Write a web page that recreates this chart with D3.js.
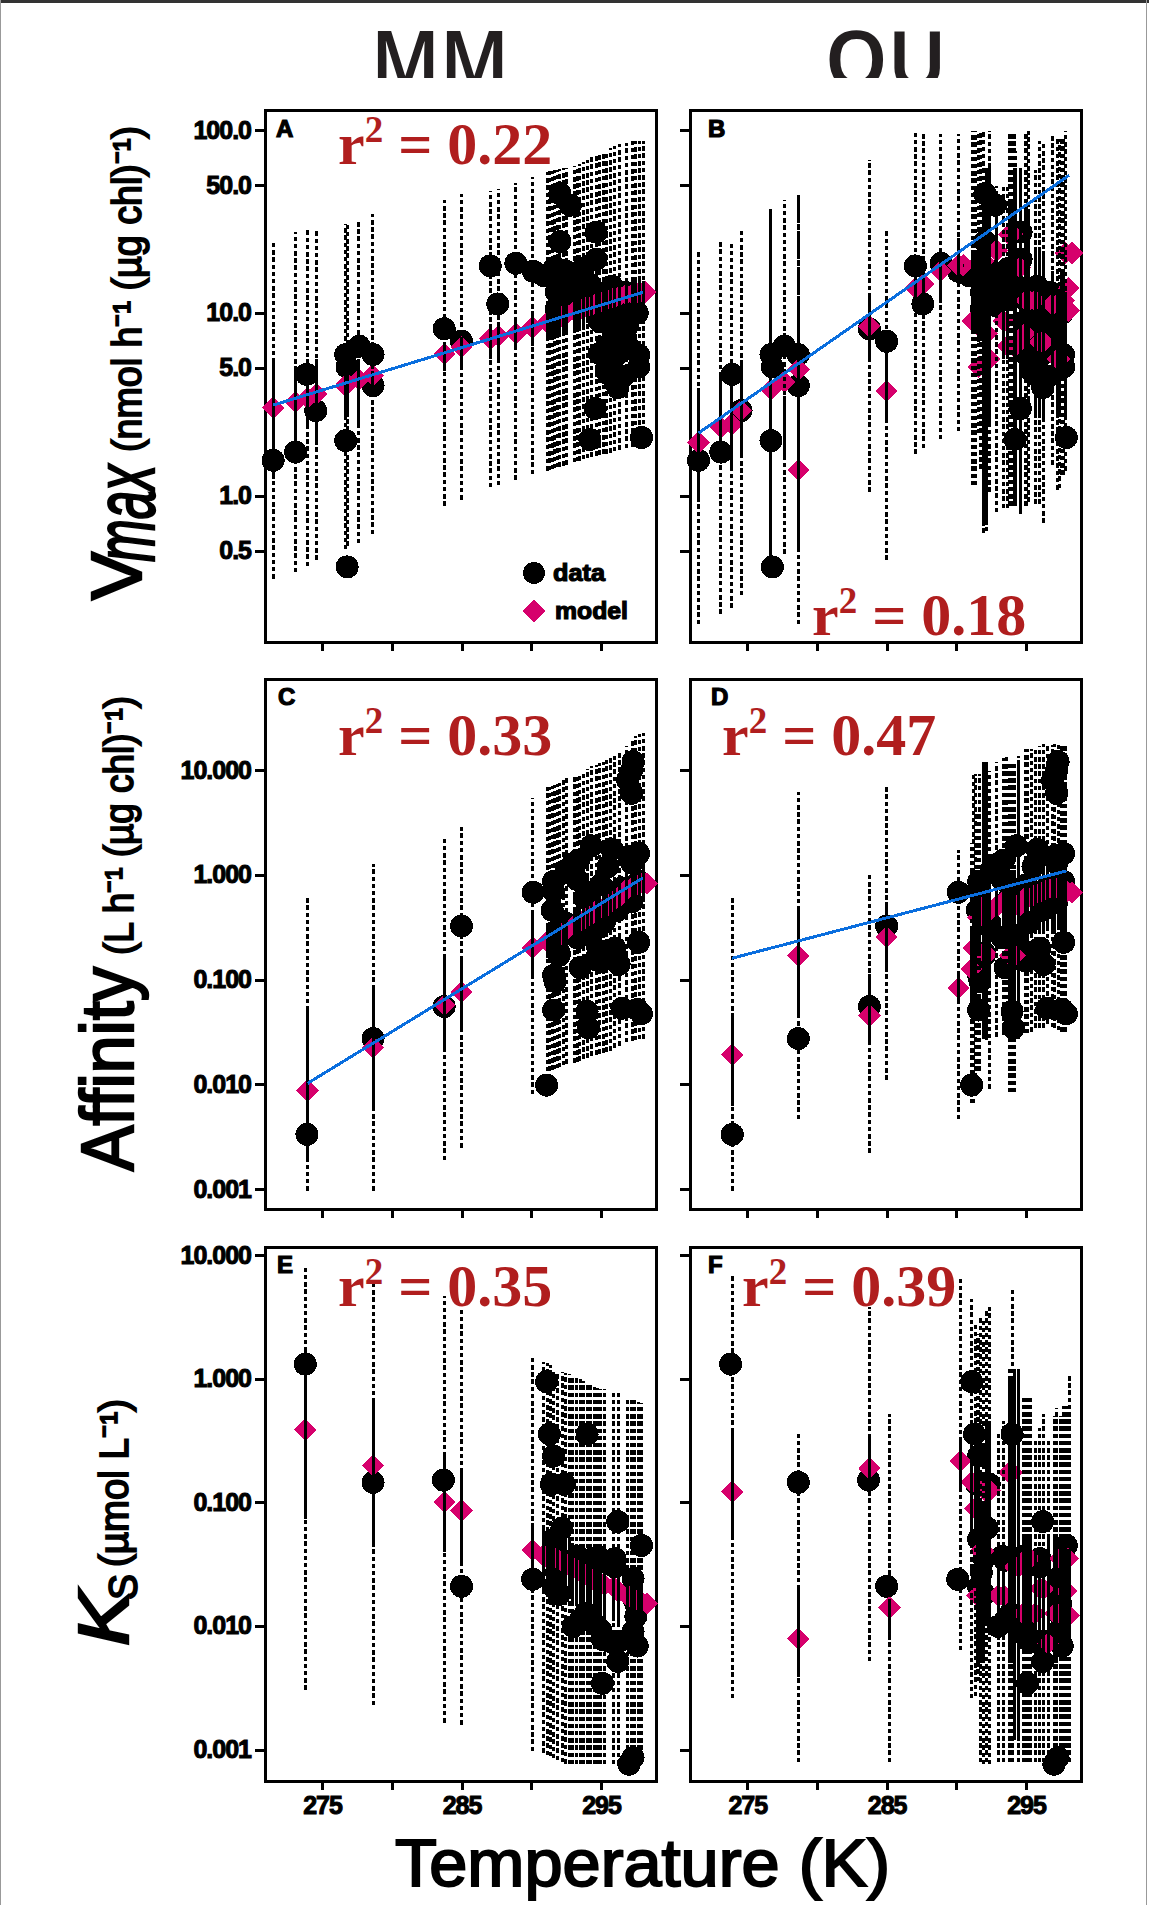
<!DOCTYPE html>
<html>
<head>
<meta charset="utf-8">
<script src="https://cdn.jsdelivr.net/npm/d3@7/dist/d3.min.js"></script>
<style>
  html, body { margin: 0; padding: 0; background: #fff; }
  svg { display: block; }
  text { font-family: "Liberation Sans", Arial, sans-serif; fill: #000; }
  .axis text { font-size: 25px; font-weight: bold; stroke: #000; stroke-width: 1px; letter-spacing: -1px; }
  .axis line { stroke: #000; stroke-width: 3px; shape-rendering: crispEdges; }
  .axis path { display: none; }
  .rsq, .rsq tspan { font-family: "Liberation Serif", serif; font-weight: bold; fill: #b01e1e; }
  .heavy { stroke: #000; stroke-width: 1.2px; }
</style>
</head>
<body>
<div id="chart"></div>
<script>
// measured data, black dots (same in both columns)
var vmaxTemp = [271.5,273.1,273.9,274.55,276.7,276.8,276.8,276.7,277.66,278.66,278.66,283.76,285,287.06,287.6,288.9,290.15,292.05,292.8,292.05,294.65,294.65,291.7,292.5,291.8,291.8,294.2,296.7,297.6,295.4,297.7,297.7,296.1,295.4,296.2,294.6,294.2,297.9,294.9,296.9,292.5,293.5,293.5,292.8,294.8,295.5,296,295.6,296.5,297,294.9,296.6,293.7,290.9,297.3,295.8,296,295.6];
var vmaxData = [1.56,1.73,4.61,2.92,2.0,0.407,5.06,5.92,6.58,5.92,4.0,8.19,7.0,18.1,11.2,18.7,16.9,45,38.9,24.6,27.7,19.7,17.8,16.9,13,10.5,14.4,13,10,6.6,5.9,5.06,5.9,4.8,3.9,3.0,2.03,2.08,9.0,8.5,14,15,12,11,12,12,10,8.6,7.5,6.5,6,4.5,17.5,16,11,14,6.6,4.6];

var affinityTemp = [273.92,278.66,283.76,285,290.14,291.1,291.6,291.6,293,294.1,294.3,293.4,295.8,297,297.2,297.3,297.9,296.5,297.7,295.8,294.3,291.7,292.2,294.6,291.5,296.2,297.7,294.1,292,291.6,292.5,293.3,293.8,295,295.5,296.5,297.2,297.7,292.4,293.3,295.2,296,297.2,295,293.5,296.3,292,294,291.6,297.6,294.8,296.9,297.2];
var affinityData = [0.00334,0.0274,0.0554,0.324,0.682,0.00986,0.0513,0.864,1.28,0.0346,1.89,1.38,1.75,1.5,10,12,0.0473,0.0533,0.227,0.18,0.266,0.096,0.336,0.155,0.46,0.46,0.864,0.68,0.17,0.7,1.1,0.9,0.6,0.8,1.2,0.75,1.3,1.6,0.35,0.25,0.35,0.2,0.55,0.15,0.13,0.14,0.18,0.05,0.11,0.052,0.19,8,6];

var ksTemp = [273.8,278.66,283.7,285,290.1,291.1,291.3,291.6,291.45,292.36,292.2,294,296.2,297.9,294.8,296,293.3,291.6,293,293.9,295.1,296.2,295.1,297.6,297.3,297,297.3,294.4,297.5,292,291.8,293.5,294.3,295.3,296,297.3,297.5,297.3,294.5,295,296.3,291.6,292,295.6,293.5];
var ksData = [1.31,0.145,0.151,0.0209,0.0238,0.945,0.356,0.237,0.14,0.14,0.0618,0.356,0.0698,0.0447,0.0364,0.035,0.0364,0.0206,0.0099,0.01265,0.00776,0.00516,0.00343,0.00687,0.0242,0.00076,0.00086,0.035,0.015,0.035,0.027,0.034,0.033,0.033,0.03,0.017,0.012,0.009,0.0105,0.0092,0.0075,0.05,0.018,0.0075,0.011];

// model fits with error bars, panel A
var tempA = [271.5,273.1,273.97,274.6,276.7,276.8,277.65,278.65,283.78,285,287.05,287.66,288.9,290.1,291.13,291.3,291.5,291.7,291.9,292.05,292.3,292.5,293.12,293.3,293.43,293.73,294,294.35,294.65,294.9,295.15,295.4,295.7,296,296.34,296.8,297.26,297.5,297.75,298.03,298.2];
var modelA = [3.03,3.25,3.42,3.6,4.0,4.1,4.33,4.56,5.98,6.5,7.22,7.49,7.7,8.32,8.9,9,9.15,9.3,9.4,9.5,9.7,9.85,10.2,10.3,10.4,10.6,10.8,11,11.3,11.4,11.6,11.8,12,12.2,12.4,12.6,12.7,12.8,12.9,13,13];
var highA = [25,27.7,28.7,28.7,30.8,30.5,32.4,34.7,41.5,45,46.8,48,51.4,55.5,59,59.5,60,60.7,61,61.5,62,62.5,63.5,64,65,67,69,71,72,73,75,77,80,82,84,85,87,87.5,87.5,87.5,13];
var lowA = [.351,.38,.411,.445,.507,.53,.548,.615,.88,.95,1.11,1.14,1.22,1.31,1.37,1.38,1.39,1.41,1.43,1.44,1.46,1.48,1.52,1.54,1.55,1.58,1.6,1.63,1.65,1.67,1.69,1.7,1.72,1.75,1.78,1.82,1.84,1.85,1.86,1.87,13];
var solidHighA = [5.6,5.06,5.6,5.6,5.92,5.9,5.33,4.8,6.93,7.3,8.54,8.54,9,10,10.5,10.6,10.8,11,11.1,11.2,11.4,11.6,11.9,12,12.2,12.4,12.7,13,13.2,13.5,13.8,14,14.2,14.4,14.6,14.8,14.9,15,15,15,13];
var solidLowA = [1.23,1.52,2.43,1.97,2.7,2.7,2.43,3.5,4.8,5.06,5.6,5.6,6.24,6.6,7.3,7.4,7.5,7.6,7.7,7.75,7.9,8,8.2,8.3,8.4,8.6,8.8,9,9.2,9.4,9.5,9.7,9.8,10,10.2,10.3,10.4,10.4,10.4,10.5,13];

// panel B
var tempB = [271.5,273.1,273.9,274.55,276.7,277.66,278.66,278.7,283.76,285,287.06,287.63,288.87,290.14,290.5,291.39,291.58,291.94,292.18,292.37,292.9,293.4,293.67,294.04,294.27,294.57,294.93,295.2,295.65,296.24,296.89,297.27,297.56,297.85,298.3,298.05,298.05,291.17,291.7,292.85,293.8,294.14,295,296,297.4,297.68,296.9];
var modelB = [1.95,2.37,2.46,2.92,3.8,4.2,1.38,4.93,8.45,3.74,13.7,14.4,17,18.2,18.2,9,5.06,19.2,7.7,5.6,21.9,9,6.6,27,6.6,17.8,7.7,11.7,11.7,6.93,11.1,5.6,11.7,21.3,21.3,13.7,10.3,9,19.2,21.9,27,6.6,11.7,6.93,5.6,11.7,11.1];
var highB = [21.5,25,24,28.7,36.9,41.5,45,44.4,69.2,28.7,98.8,95.7,95.7,95.7,18.2,98.8,98.8,98.8,62.3,98.8,49.3,49.3,49.3,98.8,76.8,62.3,98.8,98.8,60.7,87.5,94.7,89.9,92.3,98.8,21.3,13.7,10.3,98.8,98.8,49.3,98.8,98.8,98.8,87.5,89.9,92.3,94.7];
var lowB = [.198,.225,.243,.285,.445,.48,.198,.625,1.05,.445,1.69,1.82,2.03,2.25,18.2,1.14,2.19,.625,.64,1.05,.81,.855,.855,.88,.88,.79,.88,.925,.9,.71,1.48,1.08,1.3,1.37,21.3,13.7,10.3,1.14,1.4,.81,.88,.88,.88,.9,1.1,1.3,1.48];
var solidHighB = [3.9,4.56,4.44,5.33,36.9,3.5,12.2,7.7,12.2,6.08,19.7,17.8,21.9,25.6,18.2,21.9,27,38.9,62.3,62.3,36.9,16.9,16.9,41,62.3,62.3,36.9,36.9,21.9,21.9,16.9,13,16.9,13,21.3,13.7,10.3,21.9,27,36.9,41,62,36.9,21.9,13,16.9,16.9];
var solidLowB = [.975,1.6,1.37,1.6,.445,1.6,.507,2.7,5.6,2.5,11.7,11.1,11.7,14.4,18.2,7.7,6.93,.73,.69,2.43,13,5.6,5.6,16.9,.88,.81,4.56,4.56,2.7,2.7,4.56,2.7,4.56,2.7,21.3,13.7,10.3,7.7,7,13,16.9,.88,4.56,2.7,2.7,4.56,4.56];

// panel C
var tempC = [273.97,278.66,283.78,285,290.1,291.13,291.3,291.5,291.7,291.9,292.05,292.3,292.5,293.12,293.3,293.43,293.73,294,294.35,294.65,294.9,295.15,295.4,295.7,296,296.34,296.8,297.26,297.5,297.75,298.03,298.3];
var modelC = [.00876,.0225,.0576,.0758,.202,.23,.2366,.24,.246,.255,.266,.285,.2995,.33,.337,.35,.37,.39,.42,.46,.47,.48,.5,.54,.58,.62,.72,.76,.79,.82,.85,.83];
var highC = [.63,1.26,2.25,2.85,5.46,6.9,6.95,7,7.2,7.4,7.5,8,8.75,9,9.1,9.3,9.8,10.3,11,11.2,11.6,12,12.4,13,13.5,14.5,17,19.5,21,22,22.4,.83];
var lowC = [.00097,.00097,.0019,.0025,.0081,.0133,.0135,.0138,.014,.0143,.0146,.0152,.0158,.0162,.0164,.0168,.0175,.018,.0188,.0193,.0197,.02,.0205,.021,.0225,.0235,.0253,.026,.0265,.027,.0274,.83];
var solidHighC = [.0554,.082,.166,.166,.461,.33,.34,.35,.36,.37,.39,.41,.44,.48,.49,.51,.54,.57,.61,.67,.68,.7,.73,.78,.84,.9,1.04,1.1,1.15,1.19,1.23,.83];
var solidLowC = [.0019,.00616,.0216,.0346,.112,.16,.163,.166,.17,.176,.183,.197,.207,.228,.232,.24,.255,.27,.29,.317,.324,.33,.345,.37,.4,.43,.5,.52,.545,.565,.586,.83];

// panel D
var tempD = [273.92,278.66,283.76,285,290.14,291.1,291.39,291.58,291.94,292.18,292.37,292.9,293.4,293.63,294.04,294.48,294.93,295.41,295.7,296.24,296.55,297.08,297.56,297.85,298.3,291.22,291.65,292.85,293.85,294.2,295.08,296,296.9,297.3,297.68];
var modelD = [.0192,.169,.0455,.256,.0833,.126,.195,.394,.5,.173,.45,.5,.56,.54,.17,.5,.6,.62,.656,.7,.738,.738,.75,.682,.682,.2,.394,.5,.17,.17,.6,.68,.738,.75,.75];
var highD = [.63,6.15,.99,6.9,1.72,2,9.1,3.84,12,12,9.84,12,12.95,13.5,11.5,13.5,15.8,15.8,16.4,17.7,17.05,17.7,17.7,17.05,.682,9.1,9.1,12,11.5,11.5,15.8,17,17.5,17.7,17.7];
var lowD = [.00097,.00467,.00222,.0111,.00467,.00665,.01153,.0135,.0274,.0263,.00912,.0284,.0296,.0296,.00842,.0274,.0308,.032,.0346,.0346,.0374,.0346,.032,.032,.682,.00665,.0135,.0284,.00842,.00842,.0308,.0346,.035,.033,.032];
var solidHighD = [.0455,.461,.112,.54,.12,.3,.6,.8,12,12,1.2,1.2,1.3,1.3,1.1,12,1.3,1.3,1.4,1.5,1.6,1.6,1.6,1.5,.682,.6,.8,1.2,1.1,1.1,1.3,1.5,1.6,1.6,1.6];
var solidLowD = [.0062,.0438,.0253,.126,.0648,.06,.06,.18,.0274,.0263,.1,.2,.2,.2,.03,.03,.25,.25,.28,.3,.3,.3,.3,.3,.682,.06,.18,.2,.03,.03,.25,.3,.3,.3,.3];

// panel E
var tempE = [273.8,278.66,283.78,285,290.1,290.88,291.13,291.37,291.62,291.87,292.23,292.48,292.72,292.97,293.27,293.5,293.76,294,294.25,294.5,294.74,294.99,295.24,295.88,296.25,296.92,297.17,297.41,297.66,297.9,298.3];
var modelE = [.386,.198,.1007,.0856,.0412,.0372,.036,.0358,.0355,.035,.033,.032,.031,.03,.0285,.0275,.0265,.0255,.0245,.0235,.023,.022,.0215,.0206,.019,.0175,.017,.0165,.016,.0155,.0151];
var highE = [8.17,6.14,4.62,3.77,1.54,1.36,1.33,1.28,1.2,1.16,1.13,1.11,1.1,1.07,1.03,.99,.95,.92,.88,.85,.84,.83,.83,.8,.77,.71,.7,.68,.65,.63,.0151];
var lowE = [.00304,.00229,.00165,.00159,.00097,.00094,.0009,.00088,.00085,.00082,.00079,.00077,.00076,.00076,.00076,.00076,.00076,.00076,.00076,.00076,.00076,.00076,.00076,.00076,.00076,.00076,.00076,.00076,.00076,.00076,.0151];
var solidHighE = [1.81,.655,.257,.178,.067,.06,.058,.057,.056,.055,.052,.05,.05,.047,.045,.044,.042,.04,.038,.037,.036,.035,.034,.033,.03,.028,.027,.026,.025,.025,.0151];
var solidLowE = [.0728,.0465,.0395,.031,.0285,.02,.02,.019,.019,.018,.018,.017,.017,.016,.015,.015,.014,.014,.013,.012,.012,.012,.011,.011,.01,.009,.0085,.0085,.008,.008,.0151];

// panel F
var tempF = [273.92,278.66,283.76,285.2,290.3,291.1,291.35,291.6,291.94,292.4,293,293.4,294,294.2,294.8,295.1,295.65,296.24,296.6,297.2,297.7,297.9,298.1,298,291.5,291.75,292.13,293.8,294.45,295,295.3,296,297.08,297.44];
var modelF = [.1215,.00789,.1886,.01406,.2148,.145,.089,.0175,.04,.1235,.0175,.0175,.1738,.03,.0126,.035,.0126,.02,.0072,.0126,.035,.019,.01213,.035,.0175,.04,.1235,.1738,.03,.035,.035,.02,.0126,.035];
var highF = [6.94,.37,3.77,.513,6.66,4.44,2.72,2.31,3.07,3.77,.37,.454,5.22,1.206,.71,.71,.315,.513,.315,.58,.604,.6,1.11,.035,2.31,3.07,3.5,1.2,1.2,.71,.71,.4,.5,.5];
var lowF = [.00259,.00079,.00516,.00079,.00633,.00259,.00269,.00358,.00076,.00076,.00079,.00079,.00079,.00119,.00079,.00079,.00079,.00079,.00079,.00079,.00079,.00079,.00079,.035,.00358,.00079,.00079,.00079,.00079,.00079,.00079,.00079,.00079,.00079];
var solidHighF = [.392,.0206,.356,.01614,.328,.3,.2,.2,.1,.43,.03,.03,1,1.2,.05,.05,.04,.04,.05,.05,.05,.04,.04,.035,.2,.1,.43,1,1.2,.05,.05,.04,.05,.05];
var solidLowF = [.0525,.00388,.145,.00842,.1235,.06,.05,.005,.005,.01,.008,.008,.005,.00119,.008,.008,.006,.006,.006,.005,.008,.01,.008,.035,.005,.005,.01,.005,.00119,.008,.008,.006,.005,.008];

// blue fit lines
var fitTempA = [271.5,298], fitA = [3.13,12.97];
var fitTempB = [271.5,298.1], fitB = [2.2,56.8];
var fitTempC = [273.97,298], fitC = [.01026,.934];
var fitTempD = [273.9,297.9], fitD = [.16,1.09];

var xTicks = [275,280,285,290,295];
var xLabels = [275,285,295];
var vmaxTicks = [100,50,10,5,1,0.5];
var affinityTicks = [10,1,0.1,0.01,0.001];
var ksTicks = [10,1,0.1,0.01,0.001];

var width = 1149, height = 1905;
var colLeft = {left: 265, right: 656, x275: 322, x295: 601};
var colRight = {left: 690, right: 1081, x275: 747.3, x295: 1026};

var svg = d3.select("#chart").append("svg")
    .attr("width", width)
    .attr("height", height);

// page border of the scan
svg.append("rect").attr("x", 0).attr("y", 0).attr("width", width).attr("height", 3).attr("fill", "#333");
svg.append("rect").attr("x", 0).attr("y", 0).attr("width", 1).attr("height", height).attr("fill", "#999");
svg.append("rect").attr("x", 1146).attr("y", 0).attr("width", 1).attr("height", height).attr("fill", "#999");

var diamond = d3.symbol().type(d3.symbolSquare).size(250);

function drawPanel(p) {
    var x = d3.scaleLinear().domain([275, 295]).range([p.col.x275, p.col.x295]);
    var y = d3.scaleLog().domain([p.ticks[0], p.ticks[p.ticks.length - 1]]).range(p.yRange);
    var g = svg.append("g");

    // frame
    g.append("rect")
        .attr("x", p.col.left).attr("y", p.top)
        .attr("width", p.col.right - p.col.left).attr("height", p.bottom - p.top)
        .attr("fill", "none").attr("stroke", "#000").attr("stroke-width", 3)
        .attr("shape-rendering", "crispEdges");

    // axes
    g.append("g").attr("class", "axis")
        .attr("transform", "translate(" + p.col.left + ",0)")
        .call(d3.axisLeft(y).tickValues(p.ticks).tickSize(10).tickPadding(4)
            .tickFormat(p.yLabels ? d3.format(p.yFormat) : ""));
    g.append("g").attr("class", "axis")
        .attr("transform", "translate(0," + p.bottom + ")")
        .call(d3.axisBottom(x).tickValues(xTicks).tickSize(9).tickPadding(6)
            .tickFormat(function(d) { return p.xLabels && xLabels.indexOf(d) >= 0 ? d : ""; }));

    // black data dots
    g.append("g").selectAll("circle")
        .data(p.dataTemp)
        .enter().append("circle")
        .attr("cx", function(d) { return x(d); })
        .attr("cy", function(d, i) { return y(p.dataVal[i]); })
        .attr("r", 11.5)
        .attr("shape-rendering", "crispEdges")
        .attr("fill", "#000");

    // model diamonds
    g.append("g").selectAll("path")
        .data(p.temp)
        .enter().append("path")
        .attr("d", diamond)
        .attr("transform", function(d, i) {
            return "translate(" + x(d) + "," + y(p.model[i]) + ") rotate(45)";
        })
        .attr("shape-rendering", "crispEdges")
        .attr("fill", "#d6006c");

    // dashed outer and solid inner error bars, dashes counted from the low end
    var bars = g.append("g");
    bars.selectAll("line.outer")
        .data(p.temp)
        .enter().append("line")
        .attr("class", "outer")
        .attr("x1", function(d) { return x(d); })
        .attr("x2", function(d) { return x(d); })
        .attr("y1", function(d, i) { return y(p.low[i]); })
        .attr("y2", function(d, i) { return y(p.high[i]); })
        .attr("stroke", "#000").attr("stroke-width", 3)
        .attr("stroke-dasharray", "4.5 2.7")
        .attr("shape-rendering", "crispEdges");
    bars.selectAll("line.inner")
        .data(p.temp)
        .enter().append("line")
        .attr("class", "inner")
        .attr("x1", function(d) { return x(d); })
        .attr("x2", function(d) { return x(d); })
        .attr("y1", function(d, i) { return y(p.solidHigh[i]); })
        .attr("y2", function(d, i) { return y(p.solidLow[i]); })
        .attr("stroke", "#000").attr("stroke-width", 3)
        .attr("shape-rendering", "crispEdges");

    // blue fit
    if (p.fitTemp) {
        var line = d3.line()
            .x(function(d) { return x(d); })
            .y(function(d, i) { return y(p.fit[i]); });
        g.append("path")
            .attr("d", line(p.fitTemp))
            .attr("fill", "none")
            .attr("stroke", "#0a6ede")
            .attr("stroke-width", 3)
            .attr("shape-rendering", "crispEdges");
    }

    // panel letter
    g.append("text")
        .attr("x", p.col.left + p.letterDx).attr("y", p.letterY)
        .attr("font-size", 24).attr("font-weight", "bold")
        .attr("class", "heavy")
        .text(p.letter);

    // r squared label
    var t = g.append("text").attr("class", "rsq")
        .attr("x", p.rsqX).attr("y", p.rsqY)
        .attr("font-size", 60);
    t.append("tspan").text("r");
    t.append("tspan").attr("font-size", 37).attr("dy", -22).text("2");
    t.append("tspan").attr("dy", 22).text(" = " + p.rsq);
}

var panels = [
    {letter: "A", col: colLeft, top: 110, bottom: 642, ticks: vmaxTicks, yRange: [130.3, 550.6], yLabels: true, yFormat: ".1f", dataTemp: vmaxTemp, dataVal: vmaxData,
     temp: tempA, model: modelA, high: highA, low: lowA, solidHigh: solidHighA, solidLow: solidLowA, fitTemp: fitTempA, fit: fitA, letterDx: 11, letterY: 137, rsq: "0.22", rsqX: 338, rsqY: 164},
    {letter: "B", col: colRight, top: 110, bottom: 642, ticks: vmaxTicks, yRange: [130.3, 550.6], dataTemp: vmaxTemp, dataVal: vmaxData,
     temp: tempB, model: modelB, high: highB, low: lowB, solidHigh: solidHighB, solidLow: solidLowB, fitTemp: fitTempB, fit: fitB, letterDx: 18, letterY: 137, rsq: "0.18", rsqX: 812, rsqY: 635},
    {letter: "C", col: colLeft, top: 679, bottom: 1209, ticks: affinityTicks, yRange: [770, 1189.3], yLabels: true, yFormat: ".3f", dataTemp: affinityTemp, dataVal: affinityData,
     temp: tempC, model: modelC, high: highC, low: lowC, solidHigh: solidHighC, solidLow: solidLowC, fitTemp: fitTempC, fit: fitC, letterDx: 13, letterY: 705, rsq: "0.33", rsqX: 338, rsqY: 755},
    {letter: "D", col: colRight, top: 679, bottom: 1209, ticks: affinityTicks, yRange: [770, 1189.3], dataTemp: affinityTemp, dataVal: affinityData,
     temp: tempD, model: modelD, high: highD, low: lowD, solidHigh: solidHighD, solidLow: solidLowD, fitTemp: fitTempD, fit: fitD, letterDx: 21, letterY: 705, rsq: "0.47", rsqX: 722, rsqY: 755},
    {letter: "E", col: colLeft, top: 1247, bottom: 1781, ticks: ksTicks, yRange: [1255, 1749.5], yLabels: true, yFormat: ".3f", dataTemp: ksTemp, dataVal: ksData,
     temp: tempE, model: modelE, high: highE, low: lowE, solidHigh: solidHighE, solidLow: solidLowE, letterDx: 12, letterY: 1273, rsq: "0.35", rsqX: 338, rsqY: 1306, xLabels: true},
    {letter: "F", col: colRight, top: 1247, bottom: 1781, ticks: ksTicks, yRange: [1255, 1749.5], dataTemp: ksTemp, dataVal: ksData,
     temp: tempF, model: modelF, high: highF, low: lowF, solidHigh: solidHighF, solidLow: solidLowF, letterDx: 18, letterY: 1273, rsq: "0.39", rsqX: 742, rsqY: 1306, xLabels: true}
];

panels.forEach(drawPanel);

// column titles, cut off at the bottom like the original
svg.append("clipPath").attr("id", "titleClip")
    .append("rect").attr("x", 0).attr("y", 0).attr("width", width).attr("height", 78);
svg.append("g").attr("clip-path", "url(#titleClip)").selectAll("text")
    .data([["MM", 440, 138], ["OU", 886, 122]])
    .enter().append("text")
    .attr("x", function(d) { return d[1]; })
    .attr("y", 88)
    .attr("text-anchor", "middle")
    .attr("font-weight", 600)
    .attr("font-size", 80)
    .attr("textLength", function(d) { return d[2]; })
    .attr("lengthAdjust", "spacingAndGlyphs")
    .style("font-family", "'Noto Sans'")
    .style("fill", "#231f20")
    .text(function(d) { return d[0]; });

// legend in panel A
svg.append("circle").attr("cx", 534).attr("cy", 573).attr("r", 11).attr("fill", "#000").attr("shape-rendering", "crispEdges");
svg.append("path").attr("d", diamond).attr("transform", "translate(534,611) rotate(45)").attr("fill", "#d6006c").attr("shape-rendering", "crispEdges");
svg.append("text").attr("x", 553).attr("y", 581).attr("font-size", 24).attr("font-weight", "bold").attr("textLength", 52).attr("lengthAdjust", "spacingAndGlyphs").attr("class", "heavy").text("data");
svg.append("text").attr("x", 555).attr("y", 619).attr("font-size", 24).attr("font-weight", "bold").attr("textLength", 73).attr("lengthAdjust", "spacingAndGlyphs").attr("class", "heavy").text("model");

// rotated y labels: text, baseline x, start y, length along the axis, size, style, weight of the outline
var yLabelParts = [
    ["V", 141, 600, 48, 71, "normal", 2.4],
    ["max", 154, 562, 97, 86, "italic", 2.4],
    ["(nmol h\u207B\u00B9 (\u00B5g chl)\u207B\u00B9)", 141, 452, 326, 40, "normal", 1.8],
    ["Affinity", 132.5, 1171, 204, 74, "normal", 2.4],
    ["(L h\u207B\u00B9 (\u00B5g chl)\u207B\u00B9)", 132.5, 955, 259, 40, "normal", 1.8],
    ["K", 128, 1646, 55, 71, "italic", 2.4],
    ["S", 137, 1600, 26, 40, "normal", 1.8],
    ["(\u00B5mol L\u207B\u00B9)", 128, 1567, 168, 40, "normal", 1.8]
];

svg.selectAll("text.ylab")
    .data(yLabelParts)
    .enter().append("text")
    .attr("class", "ylab")
    .attr("transform", function(d) { return "translate(" + d[1] + "," + d[2] + ") rotate(-90)"; })
    .attr("font-size", function(d) { return d[4]; })
    .attr("font-style", function(d) { return d[5]; })
    .attr("stroke", "#000")
    .attr("stroke-width", function(d) { return d[6]; })
    .attr("textLength", function(d) { return d[3]; })
    .attr("lengthAdjust", "spacingAndGlyphs")
    .text(function(d) { return d[0]; });

svg.append("text")
    .attr("x", 395).attr("y", 1886)
    .attr("font-size", 66)
    .attr("textLength", 495)
    .attr("lengthAdjust", "spacingAndGlyphs")
    .attr("stroke", "#000").attr("stroke-width", 2)
    .text("Temperature (K)");
</script>
</body>
</html>
